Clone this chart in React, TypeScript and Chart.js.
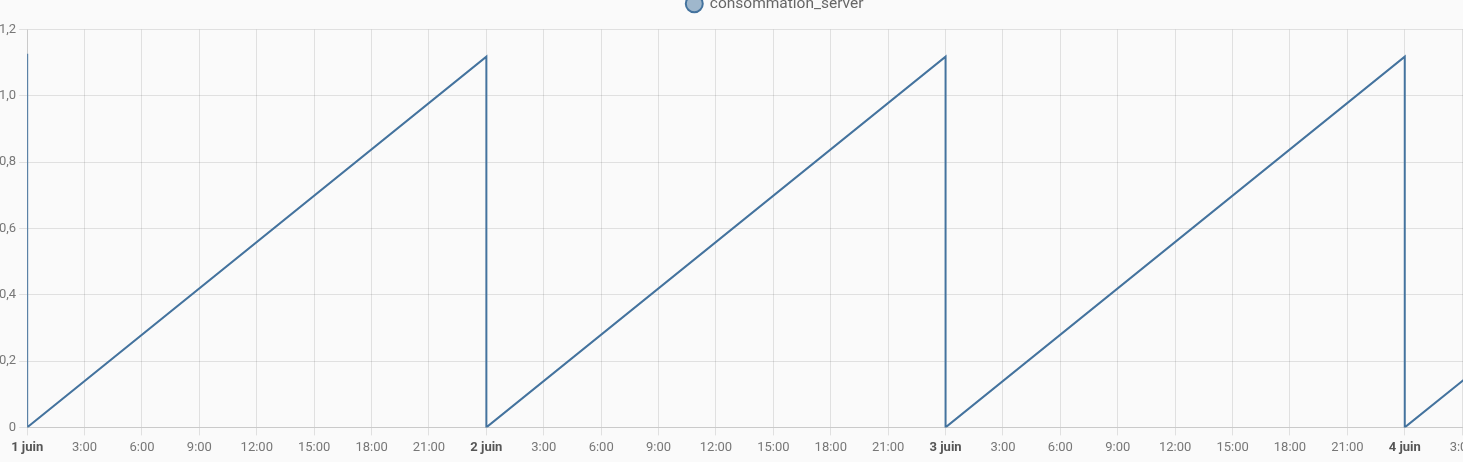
import React, { useEffect, useRef } from "react";
import { Chart, registerables } from "chart.js";

Chart.register(...registerables);

// Time in hours since 1 juin 00:00
const hours = [0, 0, 24, 24, 48, 48, 72, 72, 76];
const consommation = [1.127, 0, 1.118, 0, 1.118, 0, 1.118, 0, 0.186];
const seriesLabel = "consommation_server";
const dayLabels = ["1 juin", "2 juin", "3 juin", "4 juin", "5 juin"];
const yTicks = [0, 0.2, 0.4, 0.6, 0.8, 1.0, 1.2];

const LINE = "#44739e";
const CANVAS_W = 1558;
const CANVAS_H = 475;
const X_MAX = 79.8;

export default function App() {
  const ref = useRef<HTMLCanvasElement | null>(null);

  useEffect(() => {
    if (!ref.current) return;
    const legendGap = {
      id: "legendGap",
      beforeInit(chart: any) {
        const orig = chart.legend.fit;
        chart.legend.fit = function () {
          orig.call(this);
          this.height += 8;
        };
      },
    };
    const chart = new Chart(ref.current, {
      type: "line",
      data: {
        datasets: [
          {
            label: seriesLabel,
            data: hours.map((h, i) => ({ x: h, y: consommation[i] })),
            borderColor: LINE,
            backgroundColor: "rgba(68,115,158,0.5)",
            borderWidth: 2,
            pointRadius: 0,
            tension: 0,
            fill: false,
          },
        ],
      },
      options: {
        animation: false,
        responsive: false,
        devicePixelRatio: 1,
        plugins: {
          legend: {
            display: true,
            labels: {
              usePointStyle: true,
              pointStyle: "circle",
              boxWidth: 16,
              boxHeight: 12,
              padding: 10,
              color: "#666",
              font: { family: "Roboto", size: 15.5 },
            },
          },
          tooltip: { enabled: false },
        },
        scales: {
          x: {
            type: "linear",
            min: 0,
            max: X_MAX,
            afterBuildTicks(axis: any) {
              const t = [];
              for (let v = 0; v <= 78; v += 3) t.push({ value: v });
              axis.ticks = t;
            },
            ticks: {
              autoSkip: false,
              maxRotation: 0,
              padding: 5,
              color: (ctx: any) =>
                ctx.tick && ctx.tick.value % 24 === 0 ? "#555" : "#777",
              font: (ctx: any) => ({
                family: "Roboto",
                size: 13,
                weight: ctx.tick && ctx.tick.value % 24 === 0 ? "bold" : "normal",
              }),
              callback: (v: any) => {
                const n = Number(v);
                if (n % 24 === 0) return dayLabels[n / 24];
                return `${n % 24}:00`;
              },
            },
            grid: { color: "rgba(0,0,0,0.1)" },
          },
          y: {
            min: 0,
            max: 1.2,
            afterBuildTicks(axis: any) {
              axis.ticks = yTicks.map((v) => ({ value: v }));
            },
            ticks: {
              color: "#777",
              font: { family: "Roboto", size: 13 },
              callback: (v: any) => {
                const n = Number(v);
                return n === 0 ? "0" : n.toFixed(1).replace(".", ",");
              },
            },
            grid: { color: "rgba(0,0,0,0.1)" },
          },
        },
      },
      plugins: [legendGap],
    } as any);
    return () => chart.destroy();
  }, []);

  return (
    <div
      style={{
        position: "fixed",
        left: 0,
        top: 0,
        width: 1463,
        height: 462,
        overflow: "hidden",
        background: "#fafafa",
      }}
    >
      <canvas
        ref={ref}
        width={CANVAS_W}
        height={CANVAS_H}
        style={{
          position: "absolute",
          left: -4,
          top: -14,
          width: CANVAS_W,
          height: CANVAS_H,
          display: "block",
        }}
      />
    </div>
  );
}
